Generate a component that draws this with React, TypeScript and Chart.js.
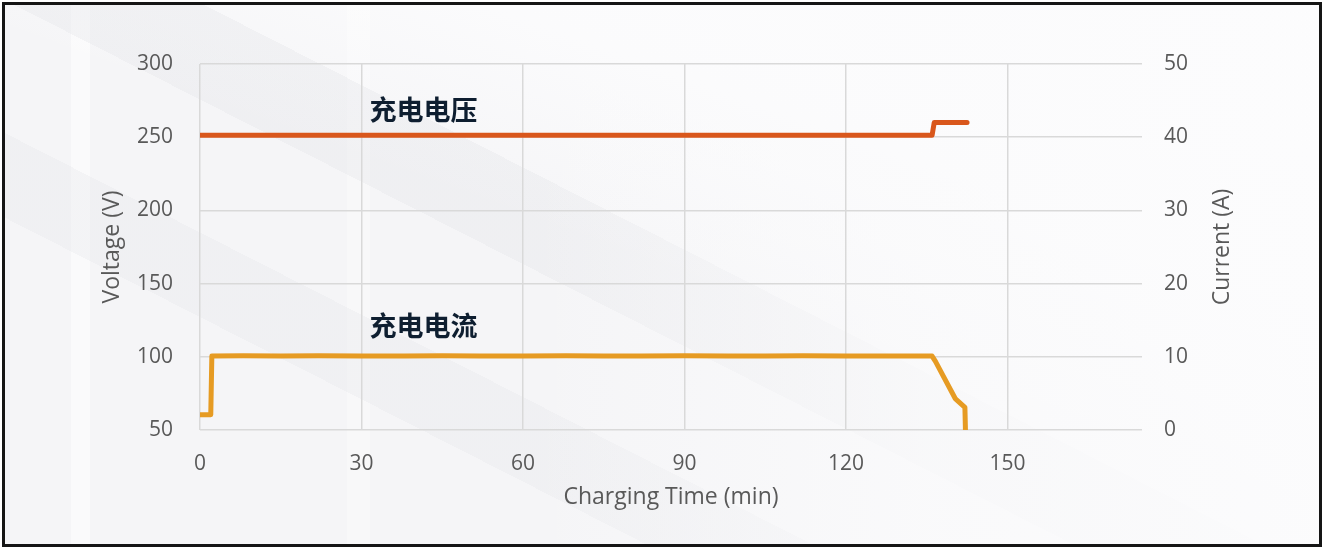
import React, { useEffect, useRef } from "react";
import { Chart, registerables } from "chart.js";

Chart.register(...registerables);

// ---- data ----
const xTicks = [0, 30, 60, 90, 120, 150];
const voltageTicks = [50, 100, 150, 200, 250, 300];
const currentTicks = [0, 10, 20, 30, 40, 50];

const voltageTime = [0, 136.0, 136.4, 142.5];
const voltageValues = [251.3, 251.3, 260, 260];

const currentTime = [0, 2.0, 2.2, 8, 15, 22, 30, 38, 45, 52, 60, 68, 75, 82, 90, 98, 105, 112, 120, 128, 136.0, 136.6, 140.3, 142.1, 142.2];
const currentValues = [2.1, 2.1, 10.12, 10.15, 10.1, 10.15, 10.12, 10.1, 10.15, 10.12, 10.1, 10.15, 10.12, 10.1, 10.15, 10.12, 10.1, 10.15, 10.12, 10.1, 10.1, 9.4, 4.3, 3.1, 0];

const seriesNames = ["充电电压", "充电电流"];

const FONT = "'Open Sans', 'Liberation Sans', sans-serif";
const GRAY = "#595959";

const annotationPlugin = {
  id: "annots",
  afterDraw(chart: any) {
    const { ctx, scales } = chart;
    const x = scales.x;
    const y = scales.y;
    ctx.save();
    ctx.fillStyle = "#0e1e30";
    ctx.font = "bold 27px 'Noto Sans CJK SC', sans-serif";
    ctx.textAlign = "left";
    ctx.textBaseline = "middle";
    ctx.fillText(seriesNames[0], x.getPixelForValue(31.5), y.getPixelForValue(268.5));
    ctx.fillText(seriesNames[1], x.getPixelForValue(31.5), y.getPixelForValue(121.5));
    // right axis title, reading bottom-to-top
    const ca = chart.chartArea;
    ctx.translate(1222, (ca.top + ca.bottom) / 2);
    ctx.rotate(-Math.PI / 2);
    ctx.fillStyle = GRAY;
    ctx.font = `23px ${FONT}`;
    ctx.textAlign = "center";
    ctx.fillText("Current (A)", 0, 0);
    ctx.restore();
  },
};

export default function App() {
  const ref = useRef<HTMLCanvasElement>(null);

  useEffect(() => {
    document.body.style.margin = "0";
    const chart = new Chart(ref.current!, {
      type: "line",
      data: {
        datasets: [
          {
            label: seriesNames[0],
            data: voltageTime.map((t, i) => ({ x: t, y: voltageValues[i] })),
            borderColor: "#d9571c",
            borderWidth: 5,
            pointRadius: 0,
            borderCapStyle: "round",
            borderJoinStyle: "round",
            yAxisID: "y",
          },
          {
            label: seriesNames[1],
            data: currentTime.map((t, i) => ({ x: t, y: currentValues[i] })),
            borderColor: "#e69b23",
            borderWidth: 5,
            pointRadius: 0,
            borderCapStyle: "round",
            borderJoinStyle: "round",
            yAxisID: "y1",
          },
        ],
      },
      options: {
        animation: false,
        responsive: true,
        maintainAspectRatio: false,
        layout: { padding: { top: 64, left: 0, right: 0, bottom: 0 } },
        plugins: { legend: { display: false }, tooltip: { enabled: false } },
        scales: {
          x: {
            type: "linear",
            min: 0,
            max: 175,
            afterBuildTicks: (s: any) => {
              s.ticks = xTicks.map((v) => ({ value: v }));
            },
            afterFit: (s: any) => {
              s.height = 119;
            },
            grid: { color: "#d9d9d9", lineWidth: 1.5, drawTicks: false },
            border: { display: false },
            ticks: { color: GRAY, font: { family: FONT, size: 21 }, padding: 21, maxRotation: 0 },
            title: {
              display: true,
              text: "Charging Time (min)",
              color: GRAY,
              font: { family: FONT, size: 23 },
              padding: { top: 0, bottom: 38 },
            },
          },
          y: {
            position: "left",
            min: 50,
            max: 300,
            afterBuildTicks: (s: any) => {
              s.ticks = voltageTicks.map((v) => ({ value: v }));
            },
            afterFit: (s: any) => {
              s.width = 200;
            },
            grid: { color: "#d9d9d9", lineWidth: 1.5, drawTicks: false },
            border: { display: false },
            ticks: { color: GRAY, font: { family: FONT, size: 21 }, padding: 27 },
            title: {
              display: true,
              text: "Voltage (V)",
              color: GRAY,
              font: { family: FONT, size: 23 },
              padding: { top: 99, bottom: 0 },
            },
          },
          y1: {
            position: "right",
            min: 0,
            max: 50,
            afterBuildTicks: (s: any) => {
              s.ticks = currentTicks.map((v) => ({ value: v }));
            },
            afterFit: (s: any) => {
              s.width = 182;
            },
            grid: { display: false, drawTicks: false },
            border: { display: false },
            ticks: { color: GRAY, font: { family: FONT, size: 21 }, padding: 22 },
          },
        },
      },
      plugins: [annotationPlugin],
    } as any);
    return () => chart.destroy();
  }, []);

  const bg = [
    "linear-gradient(90deg, rgba(251,251,252,0) 0%, rgba(251,251,252,0) 40%, rgba(251,251,252,0.75) 70%, rgba(252,252,253,0.9) 100%)",
    "linear-gradient(207deg, rgba(255,255,255,0) 0%, rgba(255,255,255,0) 47%, rgba(226,227,231,0.32) 47%, rgba(226,227,231,0.32) 55%, rgba(255,255,255,0) 55%)",
    "linear-gradient(207deg, rgba(255,255,255,0) 0%, rgba(255,255,255,0) 66%, rgba(228,229,233,0.3) 66%, rgba(228,229,233,0.3) 73%, rgba(255,255,255,0) 73%)",
    "linear-gradient(90deg, rgba(255,255,255,0) 0%, rgba(255,255,255,0) 5%, rgba(255,255,255,0.55) 5%, rgba(255,255,255,0.55) 6.5%, rgba(255,255,255,0) 6.5%)",
    "linear-gradient(90deg, rgba(255,255,255,0) 0%, rgba(255,255,255,0) 26%, rgba(255,255,255,0.3) 26%, rgba(255,255,255,0.3) 27.8%, rgba(255,255,255,0) 27.8%)",
    "linear-gradient(200deg, rgba(253,253,254,1) 0%, rgba(252,252,253,0.85) 30%, rgba(246,246,248,0) 50%)",
    "#f5f5f7",
  ].join(", ");

  return (
    <div style={{ position: "relative", width: 1324, height: 549, background: "#fff", overflow: "hidden" }}>
      <div
        style={{
          position: "absolute",
          left: 2,
          top: 2,
          width: 1320,
          height: 545,
          boxSizing: "border-box",
          border: "3px solid #151515",
          background: bg,
        }}
      />
      <div style={{ position: "absolute", left: 0, top: 0, width: 1324, height: 549 }}>
        <canvas ref={ref} />
      </div>
    </div>
  );
}
